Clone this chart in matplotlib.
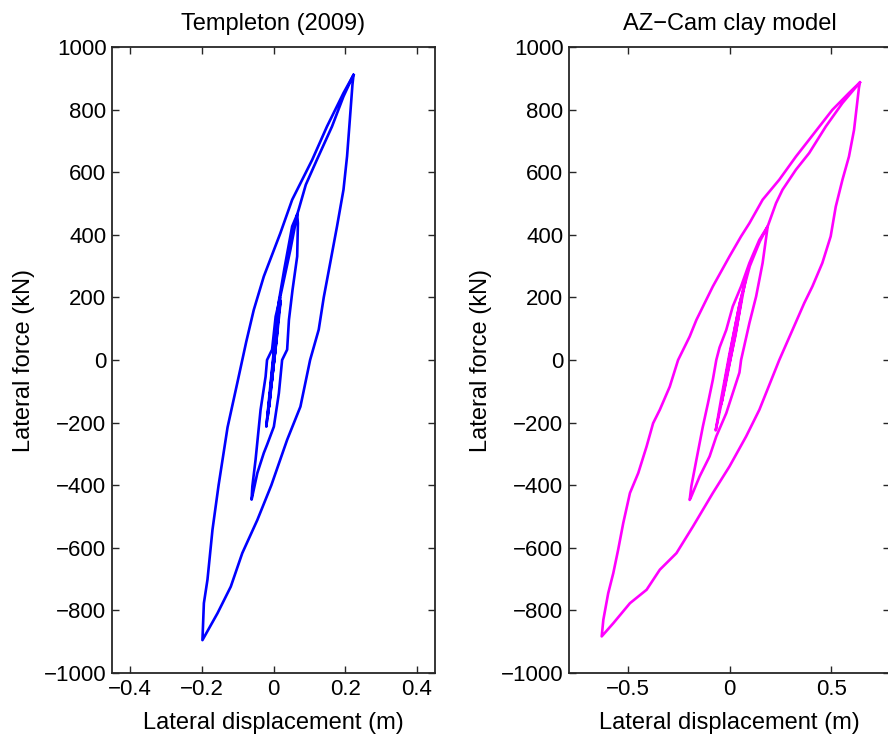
import matplotlib
matplotlib.use("Agg")
import matplotlib.pyplot as plt

plt.rcParams['font.family'] = ['Liberation Sans', 'DejaVu Sans']

# ---- Templeton (2009): lateral displacement (m) vs lateral force (kN) ----
templeton_disp = [
    # small cycles around the origin
    0.000, 0.006, 0.010, 0.004, -0.006, -0.002, 0.006, 0.014, 0.008, -0.002,
    -0.012, -0.006, 0.004, 0.016, 0.020, 0.010, -0.004, -0.016, -0.008, 0.004,
    0.018, 0.008, -0.008, -0.020, -0.012, 0.000, 0.014,
    0.030, 0.052, 0.066,
    # unload of the intermediate cycle
    0.068, 0.066, 0.053, 0.043, 0.038, 0.024, 0.015, 0.001, -0.018, -0.027,
    -0.045, -0.061,
    # reload up to the intermediate peak
    -0.059, -0.050, -0.036, -0.022, -0.018, -0.004, 0.006, 0.019, 0.047, 0.066,
    # loading to the large-cycle peak
    0.070, 0.090, 0.121, 0.163, 0.195, 0.223,
    # unload of the large cycle
    0.220, 0.212, 0.205, 0.195, 0.177, 0.158, 0.140, 0.126, 0.102,
    0.075, 0.038, -0.006, -0.045, -0.087, -0.119, -0.156, -0.198,
    # reload of the large cycle
    -0.194, -0.184, -0.170, -0.153, -0.128, -0.101, -0.076, -0.055, -0.027,
    0.019, 0.052, 0.108, 0.149, 0.195, 0.223,
]
templeton_force = [
    0, 60, 110, 20, -80, -30, 60, 150, 70, -40,
    -150, -60, 50, 160, 190, 80, -60, -180, -90, 40,
    200, 60, -90, -213, -120, 20, 182,
    290, 427, 465,
    437, 331, 224, 128, 33, 0, -106, -213, -271, -297,
    -361, -446,
    -404, -319, -159, -53, 0, 33, 139, 203, 352, 465,
    480, 560, 640, 746, 842, 911,
    880, 757, 651, 544, 427, 310, 200, 97, 0,
    -149, -255, -400, -511, -617, -724, -809, -895,
    -777, -702, -542, -400, -215, -74, 58, 160, 267,
    405, 512, 640, 746, 853, 911,
]

# ---- AZ-Cam clay model ----
azcam_disp = [
    # small cycles around the origin
    0.000, 0.030, 0.060, 0.030, -0.010, -0.040, -0.020, 0.020, 0.050, 0.080,
    0.040, -0.020, -0.050, -0.068, -0.040, 0.000, 0.050, 0.100, 0.150, 0.188,
    # unload of the intermediate cycle
    0.163, 0.131, 0.098, 0.057, 0.049, 0.016, -0.016, -0.065, -0.098, -0.147,
    -0.188, -0.196,
    # reload up to the intermediate peak
    -0.188, -0.163, -0.131, -0.106, -0.082, -0.065, -0.049, -0.016, 0.016,
    0.057, 0.098, 0.147, 0.188,
    # loading to the large-cycle peak
    0.229, 0.261, 0.327, 0.392, 0.474, 0.556, 0.642,
    # unload of the large cycle
    0.637, 0.613, 0.588, 0.556, 0.523, 0.498, 0.457, 0.408, 0.368, 0.310,
    0.245, 0.147, 0.082, 0.000, -0.082, -0.180, -0.261, -0.343, -0.408,
    -0.490, -0.572, -0.629,
    # reload of the large cycle
    -0.621, -0.597, -0.572, -0.548, -0.523, -0.490, -0.449, -0.408, -0.376,
    -0.343, -0.294, -0.253, -0.196, -0.163, -0.082, 0.000, 0.057, 0.098, 0.163,
    0.245, 0.327, 0.392, 0.506, 0.588, 0.642,
]
azcam_force = [
    0, 100, 200, 80, -40, -140, -60, 80, 180, 260,
    120, -80, -170, -225, -120, 20, 180, 300, 380, 427,
    310, 203, 118, 0, -40, -106, -170, -244, -308, -372,
    -436, -447,
    -404, -319, -212, -138, -63, 0, 40, 96, 171,
    235, 310, 384, 427,
    501, 544, 608, 661, 746, 821, 887,
    869, 735, 650, 576, 490, 395, 310, 235, 182, 96,
    0, -159, -244, -340, -425, -532, -617, -670, -734,
    -777, -841, -883,
    -830, -745, -681, -606, -521, -425, -361, -276, -202,
    -159, -85, 0, 75, 128, 235, 331, 395, 437, 512,
    576, 650, 704, 799, 853, 887,
]

force_ticks = [-1000, -800, -600, -400, -200, 0, 200, 400, 600, 800, 1000]
force_labels = ['\u22121000', '\u2212800', '\u2212600', '\u2212400', '\u2212200',
                '0', '200', '400', '600', '800', '1000']
left_xticks = [-0.4, -0.2, 0, 0.2, 0.4]
left_xlabels = ['\u22120.4', '\u22120.2', '0', '0.2', '0.4']
right_xticks = [-0.5, 0, 0.5]
right_xlabels = ['\u22120.5', '0', '0.5']

W, H = 888, 742
fig = plt.figure(figsize=(W / 100, H / 100), dpi=100)

def px_axes(x0, x1, y0, y1):
    return fig.add_axes([x0 / W, 1 - y1 / H, (x1 - x0) / W, (y1 - y0) / H])

ax1 = px_axes(112, 435, 47, 673)
ax2 = px_axes(569, 890, 47, 673)

panels = [
    (ax1, templeton_disp, templeton_force, '#0000ff', 'Templeton (2009)',
     (-0.45, 0.45), left_xticks, left_xlabels),
    (ax2, azcam_disp, azcam_force, '#ff00ff', 'AZ\u2212Cam clay model',
     (-0.79, 0.79), right_xticks, right_xlabels),
]

for ax, xs, ys, col, title, xlim, xt, xl in panels:
    ax.plot(xs, ys, color=col, lw=1.9, solid_joinstyle='round')
    ax.set_xlim(*xlim)
    ax.set_ylim(-1000, 1000)
    ax.set_xticks(xt)
    ax.set_xticklabels(xl)
    ax.set_yticks(force_ticks)
    ax.set_yticklabels(force_labels)
    ax.tick_params(direction='in', length=5, width=1, top=True, right=True,
                   labelsize=16, pad=4, colors='#262626', labelcolor='black')
    for sp in ax.spines.values():
        sp.set_linewidth(1.3)
        sp.set_color('#262626')
    ax.set_title(title, fontsize=17, pad=12)
    ax.set_xlabel('Lateral displacement (m)', fontsize=17, labelpad=9)
    ax.set_ylabel('Lateral force (kN)', fontsize=17, labelpad=6)

fig.savefig('out.png', dpi=100)
